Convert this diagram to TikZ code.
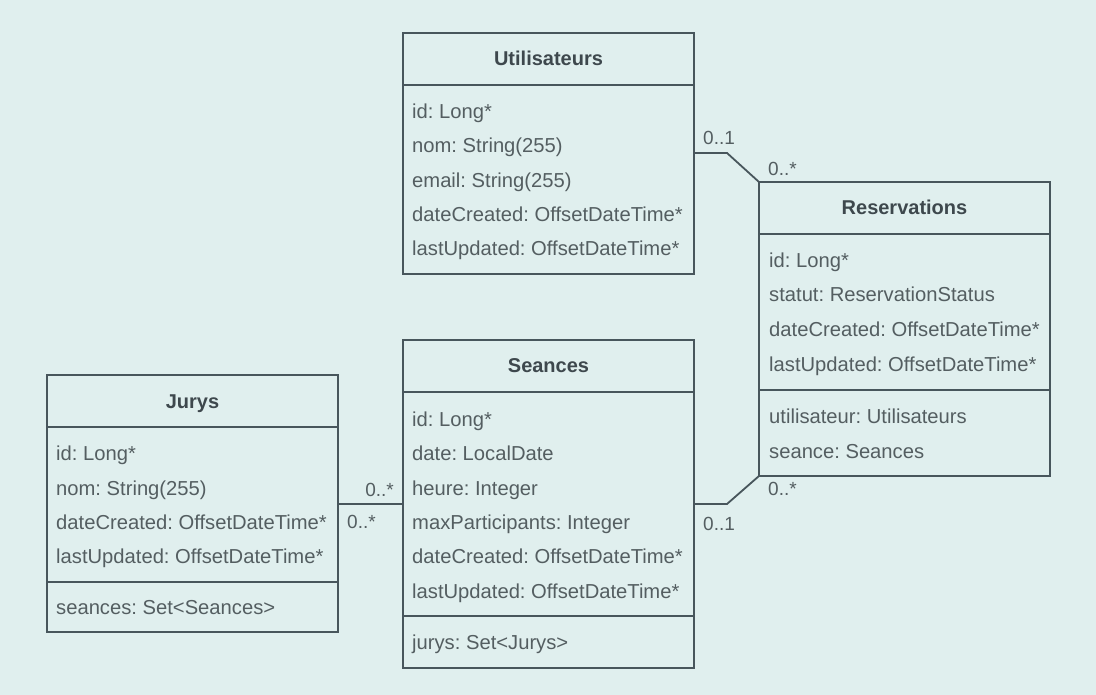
\documentclass[tikz,border=0pt]{standalone}
\usepackage{fontspec}
\setmainfont{Liberation Sans}
\frenchspacing
\definecolor{bg}{RGB}{224,239,238}
\definecolor{ln}{RGB}{72,86,92}
\definecolor{tx}{RGB}{84,94,97}
\definecolor{tt}{RGB}{62,72,77}
\begin{document}
\begin{tikzpicture}[x=1pt,y=-1pt,
  box/.style={draw=ln,line width=1.8pt,fill=bg,rectangle,inner sep=0pt,outer sep=0pt,minimum width=291pt,anchor=north west},
  sep/.style={draw=ln,line width=1.8pt},
  attr/.style={anchor=base west,inner sep=0pt,text=tx,font=\fontsize{20.2}{24}\selectfont\frenchspacing},
  ttl/.style={anchor=base,inner sep=0pt,text=tt,font=\fontsize{20}{24}\selectfont\bfseries},
  mult/.style={inner sep=0pt,text=tx,font=\fontsize{19}{22}\selectfont},
  conn/.style={draw=ln,line width=1.8pt}]
\fill[bg] (0,0) rectangle (1096,695);
\useasboundingbox (0,0) rectangle (1096,695);

% Utilisateurs
\node[box,minimum height=241pt] (U) at (403,33) {};
\draw[sep] (U.west|-0,85) -- (U.east|-0,85);
\node[ttl] (Ut) at (548.5,66) {Utilisateurs};
\node[attr] (U1) at (412,119) {id: Long*};
\node[attr] (U2) at (412,153) {nom: String(255)};
\node[attr] (U3) at (412,188) {email: String(255)};
\node[attr] (U4) at (412,222) {dateCreated: OffsetDateTime*};
\node[attr] (U5) at (412,256) {lastUpdated: OffsetDateTime*};

% Reservations
\node[box,minimum height=294pt] (R) at (759,182) {};
\draw[sep] (R.west|-0,234) -- (R.east|-0,234);
\draw[sep] (R.west|-0,390) -- (R.east|-0,390);
\node[ttl] (Rt) at (904.5,215) {Reservations};
\node[attr] (R1) at (769,268) {id: Long*};
\node[attr] (R2) at (769,302) {statut: ReservationStatus};
\node[attr] (R3) at (769,337) {dateCreated: OffsetDateTime*};
\node[attr] (R4) at (769,371) {lastUpdated: OffsetDateTime*};
\node[attr] (R5) at (769,423) {utilisateur: Utilisateurs};
\node[attr] (R6) at (769,458) {seance: Seances};

% Seances
\node[box,minimum height=328pt] (S) at (403,340) {};
\draw[sep] (S.west|-0,392) -- (S.east|-0,392);
\draw[sep] (S.west|-0,616) -- (S.east|-0,616);
\node[ttl] (St) at (548.5,373) {Seances};
\node[attr] (S1) at (412,426) {id: Long*};
\node[attr] (S2) at (412,460.5) {date: LocalDate};
\node[attr] (S3) at (412,495) {heure: Integer};
\node[attr] (S4) at (412,529) {maxParticipants: Integer};
\node[attr] (S5) at (412,563.5) {dateCreated: OffsetDateTime*};
\node[attr] (S6) at (412,598) {lastUpdated: OffsetDateTime*};
\node[attr] (S7) at (412,649) {jurys: Set<Jurys>};

% Jurys
\node[box,minimum height=257pt] (J) at (47,375) {};
\draw[sep] (J.west|-0,427) -- (J.east|-0,427);
\draw[sep] (J.west|-0,582) -- (J.east|-0,582);
\node[ttl] (Jt) at (192.5,408) {Jurys};
\node[attr] (J1) at (56,460) {id: Long*};
\node[attr] (J2) at (56,495) {nom: String(255)};
\node[attr] (J3) at (56,529) {dateCreated: OffsetDateTime*};
\node[attr] (J4) at (56,563.5) {lastUpdated: OffsetDateTime*};
\node[attr] (J5) at (56,614) {seances: Set<Seances>};

% connectors
\coordinate (c1) at (727,153);
\draw[conn] (U.east|-c1) -- (c1) -- (R.north west);
\coordinate (c2) at (727,504);
\draw[conn] (S.east|-c2) -- (c2) -- (R.south west);
\coordinate (c3) at (370,504);
\draw[conn] (J.east|-c3) -- (S.west|-c3);

% multiplicities
\node[mult,anchor=base west] (m1) at (703,145) {0..1};
\node[mult,anchor=base west] (m2) at (768,176) {0..*};
\node[mult,anchor=base west] (m3) at (703,530) {0..1};
\node[mult,anchor=base west] (m4) at (768,495) {0..*};
\node[mult,anchor=base east] (m5) at (394,496) {0..*};
\node[mult,anchor=base west] (m6) at (347,528) {0..*};
\end{tikzpicture}
\end{document}
